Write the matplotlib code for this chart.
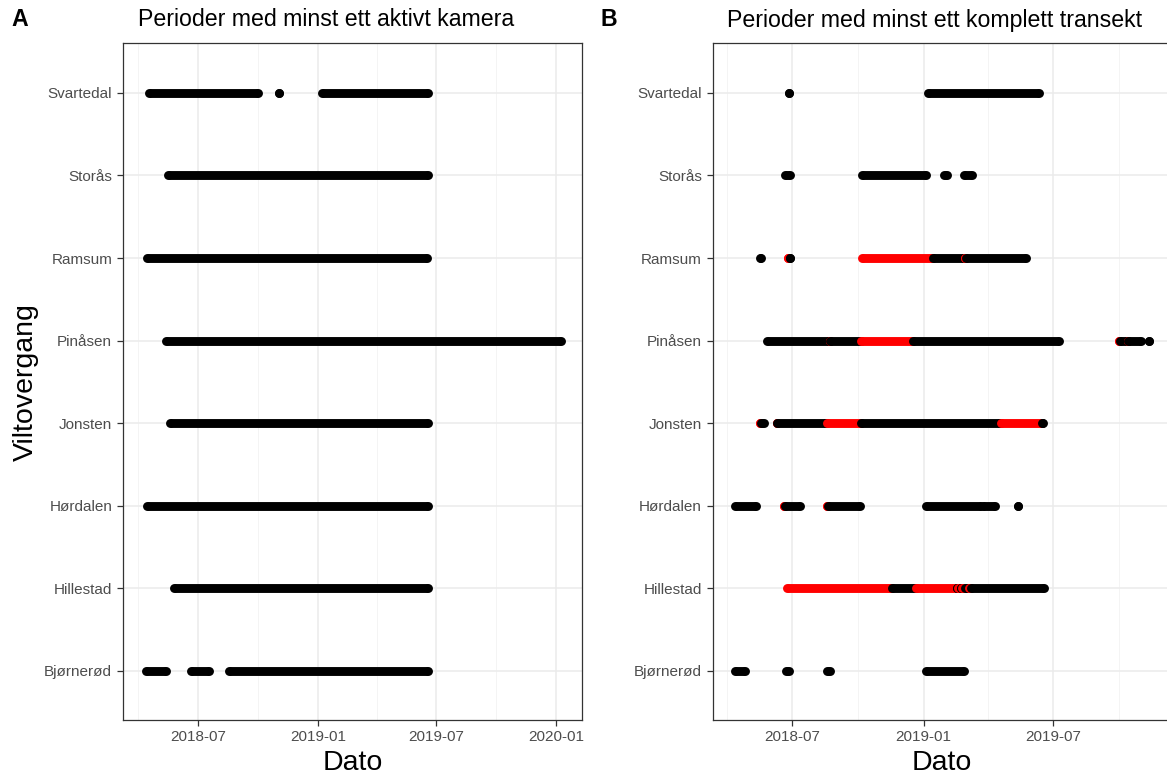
import matplotlib
matplotlib.use("Agg")
import matplotlib.pyplot as plt
import matplotlib.dates as mdates
import pandas as pd

plt.rcParams["font.family"] = ["Liberation Sans", "DejaVu Sans"]

# viltovergang, nederst til øverst
sites = ["Bjørnerød", "Hillestad", "Hørdalen", "Jonsten",
         "Pinåsen", "Ramsum", "Storås", "Svartedal"]

# A: perioder med minst ett aktivt kamera (start, slutt)
a_site = ["Svartedal", "Svartedal", "Svartedal",
          "Storås", "Ramsum", "Pinåsen", "Jonsten", "Hørdalen", "Hillestad",
          "Bjørnerød", "Bjørnerød", "Bjørnerød"]
a_start = ["2018-04-18", "2018-11-02", "2019-01-07",
           "2018-05-16", "2018-04-15", "2018-05-14", "2018-05-19", "2018-04-14", "2018-05-25",
           "2018-04-12", "2018-06-21", "2018-08-18"]
a_end = ["2018-10-02", "2018-11-02", "2019-06-18",
         "2019-06-18", "2019-06-17", "2020-01-08", "2019-06-18", "2019-06-19", "2019-06-18",
         "2018-05-14", "2018-07-19", "2019-06-19"]

# B: perioder med minst ett komplett transekt (rød = flagg 1)
b_site = (["Svartedal"] * 2 + ["Storås"] * 4 + ["Ramsum"] * 7 + ["Pinåsen"] * 10
          + ["Jonsten"] * 8 + ["Hørdalen"] * 8 + ["Hillestad"] * 11 + ["Bjørnerød"] * 4)
b_start = ["2018-06-27", "2019-01-07",
           "2018-06-22", "2018-10-07", "2019-01-30", "2019-02-26",
           "2018-05-17", "2018-06-26", "2018-06-28", "2018-10-07", "2019-01-14", "2019-02-28", "2019-03-01",
           "2018-05-28", "2018-08-23", "2018-08-24", "2018-10-06", "2018-12-17", "2019-10-01", "2019-10-02",
           "2019-10-13", "2019-10-14", "2019-11-12",
           "2018-05-18", "2018-05-19", "2018-06-10", "2018-06-11", "2018-08-19", "2018-10-06", "2019-04-19",
           "2019-06-16",
           "2018-04-13", "2018-06-20", "2018-06-21", "2018-08-19", "2018-08-20", "2019-01-04", "2019-03-25",
           "2019-05-13",
           "2018-06-24", "2018-11-18", "2018-12-21", "2019-02-17", "2019-02-18", "2019-02-22", "2019-02-23",
           "2019-02-28", "2019-03-05", "2019-03-06", "2019-03-08",
           "2018-04-13", "2018-06-23", "2018-08-19", "2019-01-05"]
b_end = ["2018-06-27", "2019-06-11",
         "2018-06-28", "2019-01-04", "2019-02-03", "2019-03-10",
         "2018-05-19", "2018-06-26", "2018-06-28", "2019-01-13", "2019-02-27", "2019-02-28", "2019-05-24",
         "2018-08-22", "2018-08-23", "2018-10-05", "2018-12-16", "2019-07-09", "2019-10-01", "2019-10-12",
         "2019-10-13", "2019-11-01", "2019-11-12",
         "2018-05-18", "2018-05-23", "2018-06-10", "2018-08-18", "2018-10-05", "2019-04-18", "2019-06-15",
         "2019-06-17",
         "2018-05-12", "2018-06-20", "2018-07-12", "2018-08-19", "2018-10-04", "2019-03-22", "2019-04-11",
         "2019-05-13",
         "2018-11-17", "2018-12-20", "2019-02-16", "2019-02-17", "2019-02-20", "2019-02-22", "2019-02-27",
         "2019-03-04", "2019-03-05", "2019-03-07", "2019-06-18",
         "2018-04-27", "2018-06-27", "2018-08-23", "2019-02-27"]
b_flag = [0, 0,
          0, 0, 0, 0,
          0, 1, 0, 1, 0, 1, 0,
          0, 1, 0, 1, 0, 1, 0, 1, 0, 0,
          1, 0, 1, 0, 1, 0, 1, 0,
          0, 1, 0, 1, 0, 0, 0, 0,
          1, 0, 1, 0, 1, 0, 1, 0, 0, 1, 0,
          0, 0, 0, 0]

W, H = 1167, 776
LW = 6.4


def draw_periods(ax, site, start, end, colors):
    ypos = {s: i + 1 for i, s in enumerate(sites)}
    for s, a, b, c in zip(site, start, end, colors):
        x = pd.to_datetime([a, b])
        ax.plot(x, [ypos[s], ypos[s]], color=c, lw=LW, marker="o", ms=LW,
                mew=0, solid_capstyle="butt")


def style_axes(ax, xlim, majors, minors):
    ax.set_xlim(pd.Timestamp(xlim[0]), pd.Timestamp(xlim[1]))
    ax.set_ylim(0.4, len(sites) + 0.6)
    ax.set_yticks(range(1, len(sites) + 1))
    ax.set_yticklabels(sites)
    ax.set_xticks(pd.to_datetime(majors))
    ax.set_xticks(pd.to_datetime(minors), minor=True)
    ax.xaxis.set_major_formatter(mdates.DateFormatter("%Y-%m"))
    ax.grid(True, which="major", color="#EBEBEB", lw=1.1)
    ax.grid(True, which="minor", axis="x", color="#F2F2F2", lw=0.6)
    ax.set_axisbelow(True)
    ax.tick_params(which="major", length=4, width=0.9, color="#333333",
                   labelsize=11, labelcolor="#4D4D4D")
    ax.tick_params(axis="y", which="major", pad=4)
    ax.tick_params(axis="x", which="major", pad=3)
    ax.tick_params(which="minor", length=0)
    for sp in ax.spines.values():
        sp.set_color("#333333")
        sp.set_linewidth(0.9)
    ax.set_xlabel("Dato", fontsize=20.5, labelpad=4)


fig = plt.figure(figsize=(W / 100, H / 100), dpi=100)
ax_a = fig.add_axes([123.3 / W, (H - 720.4) / H, 458.4 / W, 677 / H])
ax_b = fig.add_axes([713 / W, (H - 720.4) / H, 458.4 / W, 677 / H])

draw_periods(ax_a, a_site, a_start, a_end, ["black"] * len(a_site))
style_axes(ax_a, ("2018-03-09", "2020-02-09"),
           ["2018-07-01", "2019-01-01", "2019-07-01", "2020-01-01"],
           ["2018-04-01", "2018-10-01", "2019-04-01", "2019-10-01"])

draw_periods(ax_b, b_site, b_start, b_end,
             ["#FF0000" if f else "black" for f in b_flag])
style_axes(ax_b, ("2018-03-13", "2019-12-13"),
           ["2018-07-01", "2019-01-01", "2019-07-01"],
           ["2018-04-01", "2018-10-01", "2019-04-01", "2019-10-01"])

fig.text(26 / W, 1 - 382 / H, "Viltovergang", rotation=90, fontsize=20.5,
         ha="center", va="center")
fig.text(138 / W, 1 - 20 / H, "Perioder med minst ett aktivt kamera",
         fontsize=16.7, ha="left", va="center")
fig.text(727 / W, 1 - 20 / H, "Perioder med minst ett komplett transekt",
         fontsize=16.7, ha="left", va="center")
fig.text(11 / W, 1 - 20 / H, "A", fontsize=16.7, fontweight="bold",
         ha="left", va="center")
fig.text(601 / W, 1 - 20 / H, "B", fontsize=16.7, fontweight="bold",
         ha="left", va="center")

fig.savefig("out.png", dpi=100)
